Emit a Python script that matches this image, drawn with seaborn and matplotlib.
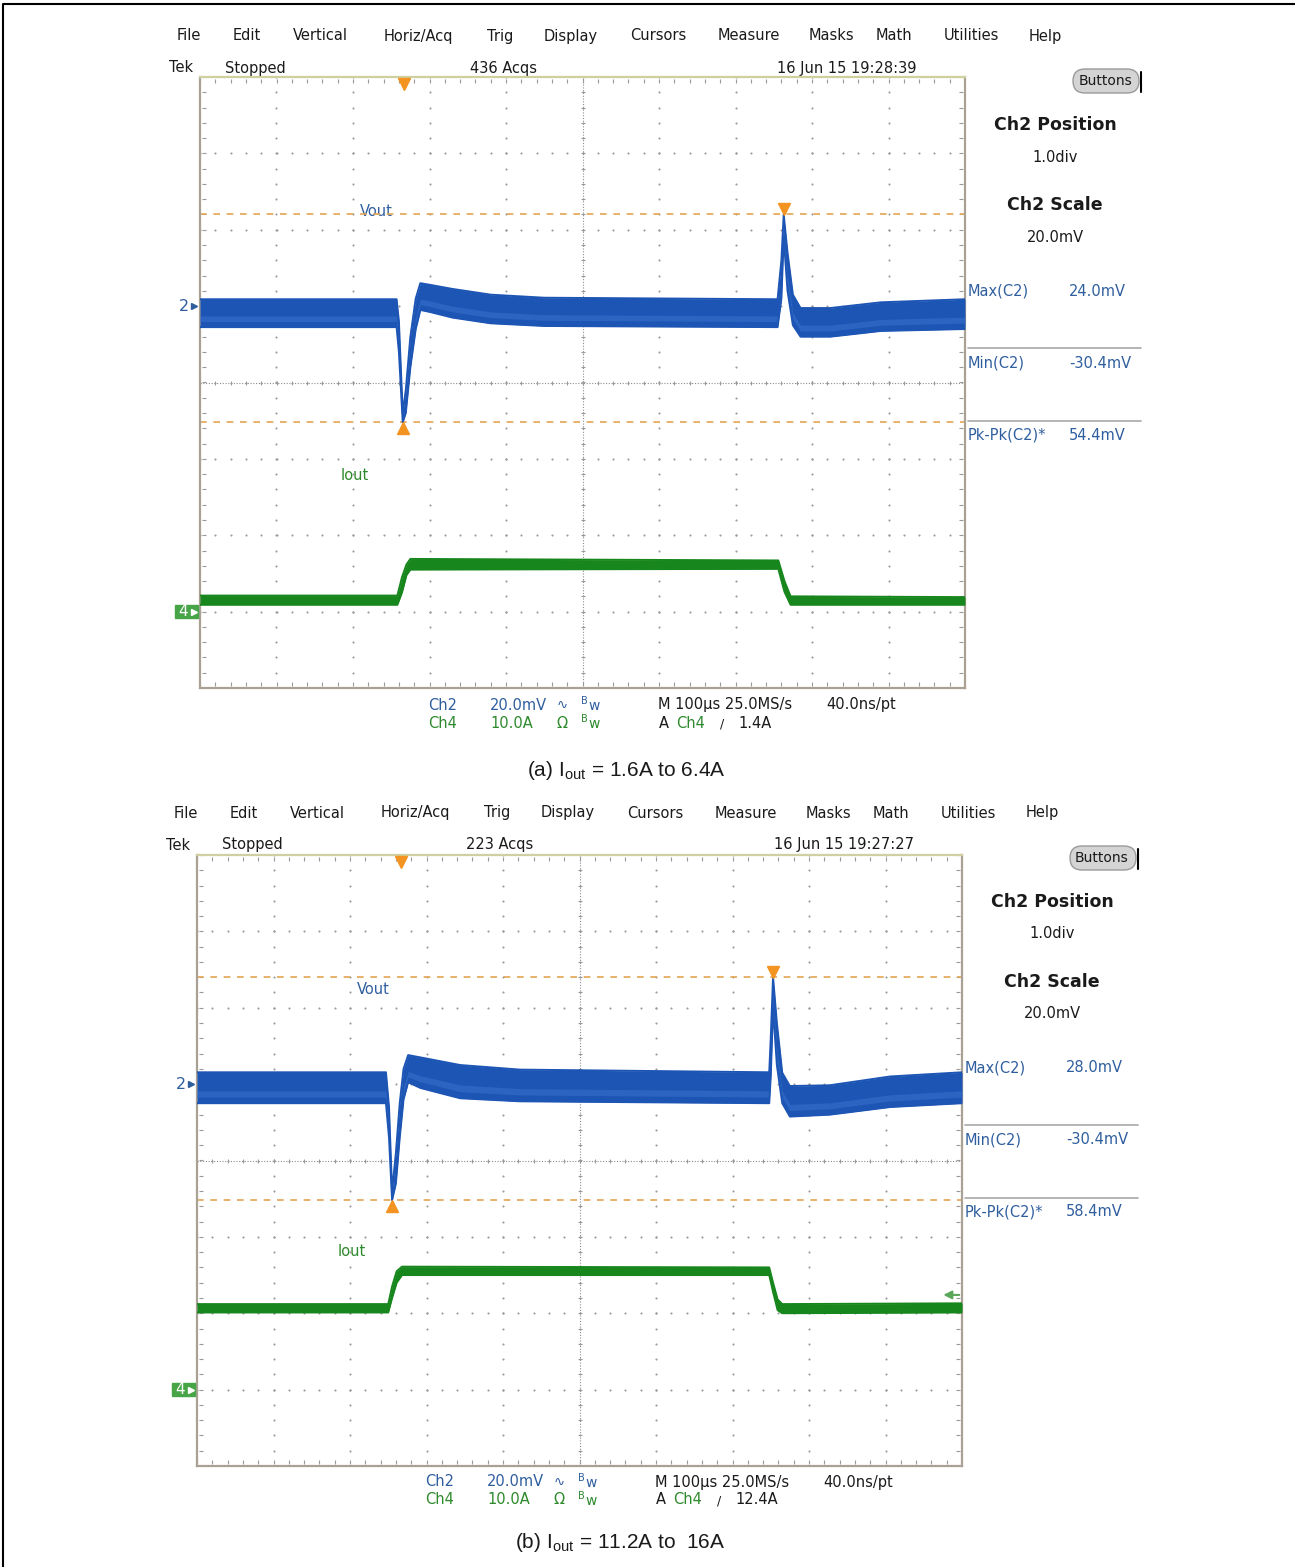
import matplotlib
matplotlib.use("Agg")
import numpy as np
import pandas as pd
import matplotlib.pyplot as plt
import seaborn as sns
from matplotlib.patches import Rectangle, FancyBboxPatch

sns.set_style("white")
plt.rcParams['font.family'] = ['DejaVu Sans']
plt.rcParams['mathtext.fontset'] = 'custom'
plt.rcParams['mathtext.rm'] = 'Liberation Sans'

W, H = 1295, 1567

# time in divisions (100us/div), Ch2 in mV (20mV/div), Ch4 in A (10A/div)
t_vout_a = [-5.0, -2.43, -2.40, -2.35, -2.31, -2.25, -2.18, -2.12, -2.0, -1.7, -1.2, -0.5,
            2.55, 2.60, 2.63, 2.68, 2.75, 2.85, 3.24, 3.9, 5.0]
vout_hi_a = [1.8, 1.8, -4, -28, -22, -8, 2, 6.0, 5.6, 4.5, 3.0, 2.2,
             1.8, 12, 24.0, 14, 3, -0.5, -0.5, 1.0, 1.8]
vout_lo_a = [-5.5, -5.5, -12, -30.4, -28, -16, -6, -1.0, -1.5, -3.0, -4.5, -5.2,
             -5.5, 2, 18, 4, -5, -8.0, -8.0, -6.5, -6.0]

t_iout_a = [-5.0, -2.42, -2.36, -2.30, -2.25, 2.56, 2.64, 2.72, 5.0]
iout_hi_a = [2.1, 2.1, 4.5, 6.2, 6.9, 6.7, 4.0, 2.0, 1.9]
iout_lo_a = [0.9, 0.9, 2.5, 4.8, 5.5, 5.6, 2.6, 0.9, 0.9]

t_vout_b = [-5.0, -2.53, -2.49, -2.45, -2.40, -2.35, -2.30, -2.24, -2.08, -1.56, -0.78,
            2.48, 2.50, 2.53, 2.58, 2.65, 2.75, 3.27, 4.06, 5.0]
vout_hi_b = [3.1, 3.1, -6, -28, -18, -5, 4, 7.6, 7.0, 5.0, 3.8,
             3.1, 12, 28.0, 16, 3, -0.5, -0.3, 2.0, 3.1]
vout_lo_b = [-5.0, -5.0, -14, -30.4, -26, -14, -4, 0.5, -1.0, -3.7, -4.5,
             -5.0, 2, 20, 5, -5, -8.5, -8.0, -6.0, -5.0]

t_iout_b = [-5.0, -2.50, -2.45, -2.39, -2.32, 2.48, 2.53, 2.59, 2.65, 5.0]
iout_hi_b = [11.2, 11.2, 13.5, 15.5, 16.1, 16.0, 14.0, 11.8, 11.2, 11.3]
iout_lo_b = [10.1, 10.1, 12.0, 14.0, 15.0, 15.0, 12.8, 10.4, 10.0, 10.1]

max_mv = [24.0, 28.0]
min_mv = [-30.4, -30.4]
pkpk_mv = [54.4, 58.4]
t_max = [2.63, 2.53]
t_min = [-2.35, -2.45]
trig_level = [1.4, 12.4]
t_trig = -2.33
acqs = ["436 Acqs", "223 Acqs"]
stamps = ["16 Jun 15 19:28:39", "16 Jun 15 19:27:27"]
captions = [r"(a) I$_{\mathrm{out}}$ = 1.6A to 6.4A", r"(b) I$_{\mathrm{out}}$ = 11.2A to  16A"]

menu_items = ["File", "Edit", "Vertical", "Horiz/Acq", "Trig", "Display", "Cursors",
              "Measure", "Masks", "Math", "Utilities", "Help"]
menu_x = [189, 247, 320, 418, 500, 571, 658, 749, 831, 894, 971, 1045]

BLUE = '#1d55b5'
BLUE_L = '#3f78d0'
GREEN = '#17861c'
TXT_B = '#2f5e9e'
TXT_G = '#2d8a2d'
ORANGE = '#f39321'
DOT = '#999999'
K = '#1a1a1a'

fig = plt.figure(figsize=(W / 100, H / 100), dpi=100)
fig.patch.set_facecolor('white')
ax0 = fig.add_axes([0, 0, 1, 1], zorder=0)
ax0.set_xlim(0, W)
ax0.set_ylim(H, 0)
ax0.axis('off')

# outer frame
ax0.plot([3, 3, W], [H, 4, 4], color='black', lw=1.5)


def T(x, y, s, **kw):
    kw.setdefault('ha', 'center')
    kw.setdefault('va', 'center')
    kw.setdefault('fontsize', 10.5)
    kw.setdefault('color', K)
    ax0.text(x, y, s, **kw)


def band(ax, t, hi, lo, color, light, edge):
    df = pd.DataFrame({'t': t, 'hi': hi, 'lo': lo})
    ax.fill_between(df['t'], df['lo'], df['hi'], color=color, lw=0, zorder=4)
    if light is not None:
        span = df['hi'] - df['lo']
        ax.fill_between(df['t'], df['lo'] + 0.2 * span, df['lo'] + 0.4 * span,
                        color=light, alpha=0.45, lw=0, zorder=4.5)
    for col in ['hi', 'lo']:
        sns.lineplot(data=df, x='t', y=col, ax=ax, color=edge, lw=1.4,
                     sort=False, estimator=None, zorder=5)


def panel(k, dx, dy, left, top, right, bottom):
    ax = fig.add_axes([left / W, 1 - bottom / H, (right - left) / W, (bottom - top) / H],
                      zorder=1)
    ax.set_facecolor('none')
    ax.set_xlim(-5, 5)
    ax.set_ylim(-4, 4)

    # dot graticule
    fine_x = np.arange(-5, 5.001, 0.2)
    fine_y = np.arange(-4, 4.001, 0.2)
    for yy in range(-3, 4):
        ax.plot(fine_x, np.full_like(fine_x, yy), ls='none', marker='o', ms=1.5, mew=0,
                color=DOT, zorder=1)
    for xx in range(-4, 5):
        ax.plot(np.full_like(fine_y, xx), fine_y, ls='none', marker='o', ms=1.5, mew=0,
                color=DOT, zorder=1)
    ax.axhline(0, color='#8f8f8f', lw=0.8, ls=(0, (1, 1.5)), zorder=1)
    ax.axvline(0, color='#8f8f8f', lw=0.8, ls=(0, (1, 1.5)), zorder=1)
    ax.plot(fine_x, np.zeros_like(fine_x), ls='none', marker='|', ms=3.5, mew=0.7, color='#999999', zorder=1)
    ax.plot(np.zeros_like(fine_y), fine_y, ls='none', marker='_', ms=3.5, mew=0.7, color='#999999', zorder=1)
    # border ticks
    for yy in [3.95, -3.95]:
        ax.plot(fine_x, np.full_like(fine_x, yy), ls='none', marker='|', ms=2.5, mew=0.8, color=DOT)
    for xx in [-4.95, 4.95]:
        ax.plot(np.full_like(fine_y, xx), fine_y, ls='none', marker='_', ms=2.5, mew=0.8, color=DOT)

    # cursors
    ymax = 1 + max_mv[k] / 20
    ymin = 1 + min_mv[k] / 20
    for yc in [ymax, ymin]:
        ax.axhline(yc, color='#e3a453', lw=1.2, ls=(0, (4, 4)), zorder=2)

    # traces
    tv = [t_vout_a, t_vout_b][k]
    vh = np.array([vout_hi_a, vout_hi_b][k]) / 20 + 1
    vl = np.array([vout_lo_a, vout_lo_b][k]) / 20 + 1
    ti = [t_iout_a, t_iout_b][k]
    ih = np.array([iout_hi_a, iout_hi_b][k]) / 10 - 3
    il = np.array([iout_lo_a, iout_lo_b][k]) / 10 - 3
    band(ax, ti, ih, il, GREEN, None, GREEN)
    band(ax, tv, vh, vl, BLUE, BLUE_L, BLUE)

    # trigger level arrow
    yl = trig_level[k] / 10 - 3
    ax.annotate('', xy=(4.72, yl), xytext=(5.0, yl), zorder=3,
                arrowprops=dict(arrowstyle='-|>', color='#5aa65a', lw=1.5, mutation_scale=12))

    # markers
    ax.plot([t_trig], [3.91], marker='v', ms=9, color=ORANGE, ls='none', clip_on=False, zorder=6)
    ax.plot([t_max[k]], [ymax + 0.07], marker='v', ms=9, color=ORANGE, ls='none', zorder=6)
    ax.plot([t_min[k]], [ymin - 0.07], marker='^', ms=9, color=ORANGE, ls='none', zorder=6)

    # channel ground markers
    tr = ax.get_yaxis_transform()
    ax.text(-0.021, 1, '2', transform=tr, ha='center', va='center', fontsize=11.5, color=TXT_B, clip_on=False)
    ax.plot([-0.008], [1], marker='>', ms=4, color=TXT_B, transform=tr, clip_on=False)
    ax.add_patch(Rectangle((-0.033, -3.09), 0.031, 0.18, transform=tr, color='#47a547',
                           clip_on=False, zorder=6))
    ax.text(-0.022, -3, '4', transform=tr, ha='center', va='center', fontsize=11,
            color='white', clip_on=False, zorder=7)
    ax.plot([-0.008], [-3], marker='>', ms=4, color='white', transform=tr, clip_on=False, zorder=7)

    ax.set_xlabel('')
    ax.set_ylabel('')
    ax.set_xticks([])
    ax.set_yticks([])
    for s in ['left', 'bottom', 'right']:
        ax.spines[s].set_color('#a9a193')
        ax.spines[s].set_linewidth(1.6)
    ax.spines['top'].set_color('#cfcf9f')
    ax.spines['top'].set_linewidth(1.6)

    # menu bar and header
    for name, x in zip(menu_items, menu_x):
        T(x + dx, 36 + dy, name, fontsize=10.5)
    T(181 + dx, 68 + dy, "Tek", fontsize=10.5)
    T(255 + dx, 68 + dy, "Stopped", fontsize=10.5)
    T(503 + dx, 68 + dy, acqs[k], fontsize=10.5)
    T(847 + dx, 68 + dy, stamps[k], fontsize=10.5)

    # trace labels
    T(376 + dx, 212 + dy, "Vout", fontsize=10.5, color=TXT_B)
    T(355 + dx, 475 + dy, "Iout", fontsize=10.5, color=TXT_G)

    # right panel
    ax0.add_patch(FancyBboxPatch((1073 + dx, 69 + dy), 66, 24, boxstyle="round,pad=0,rounding_size=12",
                                 fc='#d4d4d4', ec='#9a9a9a', lw=1))
    ax0.plot([1141 + dx, 1141 + dx], [72 + dy, 92 + dy], color='black', lw=1.5)
    T(1105 + dx, 81 + dy, "Buttons", fontsize=10)
    T(1055 + dx, 125 + dy, "Ch2 Position", fontsize=12.5, fontweight='bold')
    T(1055 + dx, 157 + dy, "1.0div", fontsize=10.5)
    T(1055 + dx, 205 + dy, "Ch2 Scale", fontsize=12.5, fontweight='bold')
    T(1055 + dx, 237 + dy, "20.0mV", fontsize=10.5)
    names = ["Max(C2)", "Min(C2)", "Pk-Pk(C2)*"]
    vals = [max_mv[k], min_mv[k], pkpk_mv[k]]
    for i, (n, v) in enumerate(zip(names, vals)):
        yy = 291 + 72 * i + dy
        T(968 + dx, yy, n, ha='left', fontsize=10.5, color=TXT_B)
        T(1069 + dx, yy, f"{v:.1f}mV", ha='left', fontsize=10.5, color=TXT_B)
    for yy in [348, 421]:
        ax0.plot([968 + dx, 1141 + dx], [yy + dy, yy + dy], color='#a8a8a8', lw=1.2)

    # bottom readouts
    T(443 + dx, 705 + dy, "Ch2", fontsize=10.5, color=TXT_B)
    T(518 + dx, 705 + dy, "20.0mV", fontsize=10.5, color=TXT_B)
    T(562 + dx, 705 + dy, "∿", fontsize=9.5, color=TXT_B)
    T(584 + dx, 701 + dy, "B", fontsize=7, color=TXT_B)
    T(594 + dx, 706 + dy, "w", fontsize=10, color=TXT_B)
    T(443 + dx, 723 + dy, "Ch4", fontsize=10.5, color=TXT_G)
    T(512 + dx, 723 + dy, "10.0A", fontsize=10.5, color=TXT_G)
    T(562 + dx, 723 + dy, "Ω", fontsize=10.5, color=TXT_G)
    T(584 + dx, 719 + dy, "B", fontsize=7, color=TXT_G)
    T(594 + dx, 724 + dy, "w", fontsize=10, color=TXT_G)
    T(658 + dx, 705 + dy, "M 100µs 25.0MS/s", ha='left', fontsize=10.5)
    T(826 + dx, 705 + dy, "40.0ns/pt", ha='left', fontsize=10.5)
    T(659 + dx, 723 + dy, "A", ha='left', fontsize=10.5)
    T(676 + dx, 723 + dy, "Ch4", ha='left', fontsize=10.5, color=TXT_G)
    T(722 + dx, 724 + dy, "/", fontsize=9)
    T(738 + dx, 723 + dy, f"{trig_level[k]:.1f}A", ha='left', fontsize=10.5)
    return ax


panel(0, 0, 0, 200, 77, 965, 688)
panel(1, -3, 777, 197, 855, 962, 1466)

T(626, 771, captions[0], fontsize=15, family='Liberation Sans')
T(620, 1543, captions[1], fontsize=15, family='Liberation Sans')

fig.savefig("out.png", dpi=100, facecolor='white')
